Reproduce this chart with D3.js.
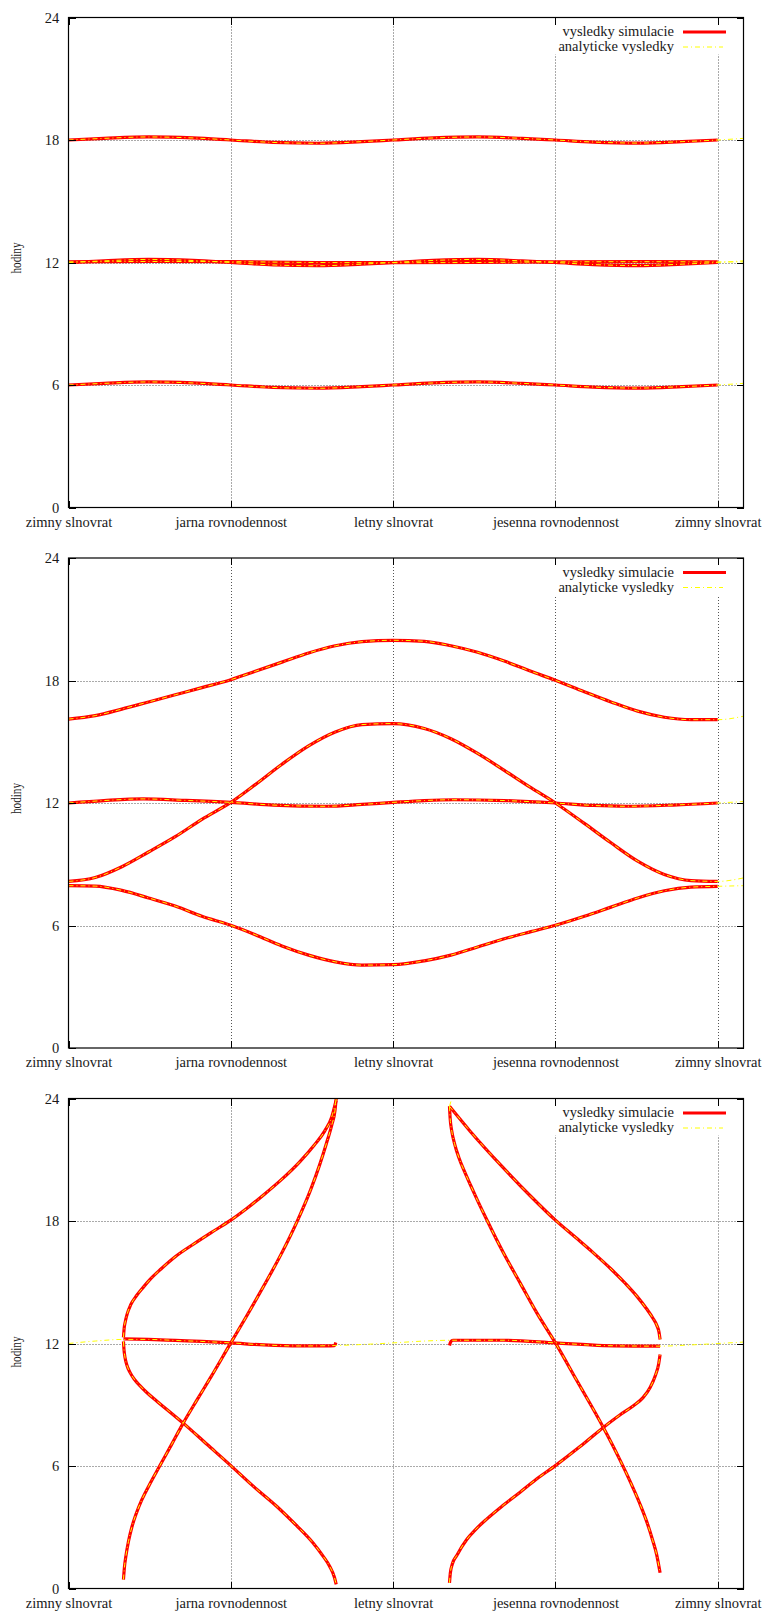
<!DOCTYPE html>
<html>
<head>
<meta charset="utf-8">
<script src="https://cdn.jsdelivr.net/npm/d3@7"></script>
<style>
  body { margin: 0; background: #fff; }
  svg text { font-family: "Liberation Serif", "Times New Roman", serif; }
</style>
</head>
<body>
<svg id="chart" width="766" height="1613"></svg>
<script>
// x axis: days from winter solstice
const xTickDays = [0, 91.25, 182.5, 273.75, 365];
const xTickLabels = ["zimny slnovrat", "jarna rovnodennost", "letny slnovrat", "jesenna rovnodennost", "zimny slnovrat"];
const yTicks = [0, 6, 12, 18, 24];
const legendLabels = ["vysledky simulacie", "analyticke vysledky"];
const yLabel = "hodiny";

// panel 1 - [day, hour]
const sunrise1 = [[0,6.0],[20,6.08],[45,6.15],[70,6.1],[91.25,6.0],[115,5.88],[140,5.84],[165,5.92],[182.5,6.0],[205,6.1],[230,6.15],[255,6.08],[273.75,6.0],[295,5.9],[320,5.85],[345,5.92],[365,6.0]];
const noon1 = [[0,12.0],[20,12.08],[45,12.15],[70,12.1],[91.25,12.0],[115,11.88],[140,11.84],[165,11.92],[182.5,12.0],[205,12.1],[230,12.15],[255,12.08],[273.75,12.0],[295,11.9],[320,11.85],[345,11.92],[365,12.0]];
const sunset1 = [[0,18.0],[20,18.08],[45,18.15],[70,18.1],[91.25,18.0],[115,17.88],[140,17.84],[165,17.92],[182.5,18.0],[205,18.1],[230,18.15],[255,18.08],[273.75,18.0],[295,17.9],[320,17.85],[345,17.92],[365,18.0]];
const dayLength1 = [[0,12.03],[45,12.05],[91.25,12.04],[140,12.0],[182.5,11.99],[230,12.0],[273.75,12.03],[320,12.04],[365,12.03]];
const tail1 = [[379.5,6.08],[379.5,12.08],[379.5,18.08],[379.5,12.03]];

// panel 2
const sunrise2 = [[0,7.95],[15,7.93],[30,7.72],[45,7.35],[60,6.95],[75,6.45],[91.25,6.01],[105,5.55],[120,5.0],[135,4.55],[150,4.22],[165,4.06],[182.5,4.08],[200,4.27],[215,4.55],[230,4.95],[245,5.35],[260,5.7],[273.75,6.01],[290,6.45],[305,6.9],[320,7.35],[335,7.7],[350,7.88],[365,7.92]];
const noon2 = [[0,12.0],[20,12.12],[42,12.2],[65,12.13],[91.25,12.03],[115,11.9],[145,11.84],[165,11.93],[182.5,12.03],[200,12.12],[216.4,12.16],[245,12.12],[273.75,12.0],[295,11.88],[313.8,11.84],[340,11.9],[365,12.0]];
const sunset2 = [[0,16.11],[15,16.28],[30,16.6],[45,16.95],[60,17.3],[75,17.65],[91.25,18.04],[105,18.45],[120,18.9],[135,19.35],[150,19.7],[165,19.9],[182.5,19.97],[200,19.92],[215,19.7],[230,19.38],[245,18.95],[260,18.45],[273.75,18.01],[290,17.45],[305,16.95],[320,16.5],[335,16.2],[350,16.08],[365,16.08]];
const dayLength2 = [[0,8.16],[15,8.35],[30,8.88],[45,9.6],[60,10.35],[75,11.2],[91.25,12.03],[105,12.9],[120,13.9],[135,14.8],[150,15.48],[165,15.84],[182.5,15.89],[200,15.65],[215,15.15],[230,14.43],[245,13.6],[260,12.75],[273.75,12.0],[290,11.0],[305,10.05],[320,9.15],[335,8.5],[350,8.2],[365,8.16]];
const tail2 = [[379.5,7.95],[379.5,12.07],[379.5,16.25],[379.5,8.33]];

// panel 3 (spring part, autumn part)
const dayLength3a = [[30.9,0.44],[31.4,1.0],[32.3,1.6],[33.7,2.3],[35.6,3.0],[38,3.65],[41,4.3],[45,5.0],[51.4,6.02],[58,7.06],[64.5,8.1],[72,9.2],[80,10.35],[91.25,12.03],[100,13.32],[110,14.85],[120,16.45],[129,18.07],[136,19.5],[141,20.7],[145,21.8],[148,22.7],[149.8,23.4],[150.5,24.0]];
const sunset3a = [[30.9,12.3],[31.3,12.75],[32,13.1],[33,13.45],[35,13.9],[38.3,14.35],[42,14.75],[46,15.15],[52,15.65],[60,16.25],[70,16.85],[80,17.42],[91.25,18.04],[100,18.6],[110,19.3],[120,20.05],[130,20.9],[138,21.7],[144,22.4],[148,23.1],[150.4,23.9]];
const sunrise3a = [[30.9,12.1],[31.2,11.7],[31.8,11.3],[32.8,10.95],[34.5,10.6],[37,10.25],[40,9.95],[44,9.6],[50,9.15],[57,8.65],[64.5,8.1],[78,7.05],[91.25,6.02],[104,5.0],[117,4.03],[128,3.1],[137.4,2.24],[143,1.6],[146.8,1.09],[149.5,0.55],[150.5,0.2]];
const noon3a = [[30.9,12.23],[45,12.2],[60,12.15],[75,12.1],[91.25,12.03],[110,11.93],[130,11.88],[145,11.88],[149.5,11.9],[150.3,12.05]];
const sunset3b = [[214.2,23.62],[225.8,22.4],[244.5,20.6],[260,19.2],[273.75,18.04],[285,17.2],[295.1,16.44],[305,15.65],[313,14.95],[319.5,14.32],[325,13.7],[328.5,13.25],[330.7,12.9],[332,12.55],[332.6,12.2]];
const sunrise3b = [[214.2,0.28],[214.7,0.77],[215.8,1.2],[218.3,1.62],[223.9,2.4],[229,2.9],[235.1,3.4],[244,4.05],[253.9,4.72],[263,5.35],[273.75,6.02],[287.6,6.95],[300.7,7.89],[310,8.5],[317.6,8.95],[323,9.35],[327,9.85],[330,10.45],[331.8,11.0],[332.6,11.46]];
const dayLength3b = [[214.2,23.62],[214.6,23.0],[215.5,22.4],[217,21.8],[219.5,21.1],[222.5,20.45],[225.8,19.8],[230,19.0],[235.1,18.07],[244.5,16.44],[253.9,14.97],[263.3,13.5],[273.75,12.03],[285.7,10.2],[300.7,7.89],[310.1,6.29],[316,5.2],[321,4.2],[325,3.3],[328.3,2.4],[330.7,1.65],[332.6,0.77]];
const noon3b = [[214.2,11.9],[215,12.1],[216.1,12.16],[244.5,12.16],[273.75,12.03],[300.7,11.9],[332.6,11.87]];
const analyticNoon3 = [[0,12.0],[15,12.12],[30.9,12.2],[45,12.2],[60,12.15],[75,12.1],[91.25,12.03],[110,11.93],[130,11.88],[150,11.9],[165,11.95],[182.5,12.03],[200,12.12],[216,12.16],[245,12.16],[273.75,12.03],[300,11.9],[332,11.87],[350,11.93],[365,12.0],[379.5,12.07]];
const analyticTop3 = [[214.2,23.62],[215.5,24.0]];

const left = 68.5, right = 743.5, panelHeight = 490;
const panelTops = [17.5, 558, 1098.5];
const yLabelShift = [0, 0, 13];

const panels = [
  { top: panelTops[0], labelShift: yLabelShift[0],
    sim: [sunrise1, noon1, sunset1, dayLength1],
    analytic: [sunrise1, noon1, sunset1, dayLength1].map((s, i) => s.concat([tail1[i]])) },
  { top: panelTops[1], labelShift: yLabelShift[1],
    sim: [sunrise2, noon2, sunset2, dayLength2],
    analytic: [sunrise2, noon2, sunset2, dayLength2].map((s, i) => s.concat([tail2[i]])) },
  { top: panelTops[2], labelShift: yLabelShift[2],
    sim: [dayLength3a, sunset3a, sunrise3a, noon3a, sunset3b, sunrise3b, dayLength3b, noon3b],
    analytic: [dayLength3a, sunset3a, sunrise3a, sunset3b, sunrise3b, dayLength3b, analyticNoon3, analyticTop3] }
];

const serif = '"Liberation Serif", "Times New Roman", serif';
const svg = d3.select("#chart");

const x = d3.scaleLinear()
  .domain([0, 379.5])
  .range([left, right]);

function styleAxis(g) {
  g.attr("font-family", serif).attr("font-size", 14.5);
  g.select(".domain").remove();
  g.selectAll(".tick line").attr("stroke", "#000").attr("shape-rendering", "crispEdges");
  g.selectAll("text")
    .attr("fill", "#1a1a1a")
    .style("font-family", serif)
    .style("font-size", "14.5px");
}

function drawPanel(p) {
  const y = d3.scaleLinear()
    .domain([0, 24])
    .range([p.top + panelHeight, p.top]);

  const g = svg.append("g");

  // grid
  g.selectAll("line.gridx")
    .data(xTickDays.slice(1))
    .enter()
    .append("line")
    .attr("class", "gridx")
    .attr("x1", d => Math.round(x(d)) + 0.5)
    .attr("x2", d => Math.round(x(d)) + 0.5)
    .attr("y1", y(0))
    .attr("y2", y(24))
    .attr("stroke", "#555")
    .attr("stroke-dasharray", "1,2");

  g.selectAll("line.gridy")
    .data(yTicks.slice(1, -1))
    .enter()
    .append("line")
    .attr("class", "gridy")
    .attr("x1", left)
    .attr("x2", right)
    .attr("y1", d => Math.round(y(d)) + 0.5)
    .attr("y2", d => Math.round(y(d)) + 0.5)
    .attr("stroke", "#555")
    .attr("stroke-dasharray", "1,2");

  // key background
  g.append("rect")
    .attr("x", 550)
    .attr("y", p.top + 1)
    .attr("width", 188)
    .attr("height", 36)
    .attr("fill", "#fff");

  const line = d3.line()
    .x(d => x(d[0]))
    .y(d => y(d[1]))
    .curve(d3.curveMonotoneX);

  p.sim.forEach(s => {
    g.append("path")
      .attr("d", line(s))
      .attr("fill", "none")
      .attr("stroke", "#ff0000")
      .attr("stroke-width", 3.2)
      .attr("stroke-linejoin", "round");
  });

  p.analytic.forEach(s => {
    g.append("path")
      .attr("d", line(s))
      .attr("fill", "none")
      .attr("stroke", "#ffff00")
      .attr("stroke-width", 1)
      .attr("stroke-dasharray", "5,3,1,3");
  });

  // axes, ticks inward (mirrored like gnuplot)
  g.append("g")
    .attr("transform", `translate(${left},0)`)
    .call(d3.axisLeft(y).tickValues(yTicks).tickSizeInner(-7).tickSizeOuter(0).tickPadding(9.2))
    .call(styleAxis);

  g.append("g")
    .attr("transform", `translate(${right},0)`)
    .call(d3.axisRight(y).tickValues(yTicks).tickSizeInner(-7).tickSizeOuter(0).tickFormat(""))
    .call(styleAxis);

  g.append("g")
    .attr("transform", `translate(0,${y(0)})`)
    .call(d3.axisBottom(x).tickValues(xTickDays).tickSizeInner(-7).tickSizeOuter(0).tickPadding(9.2)
      .tickFormat((d, i) => xTickLabels[i]))
    .call(styleAxis);

  g.append("g")
    .attr("transform", `translate(0,${y(24)})`)
    .call(d3.axisTop(x).tickValues(xTickDays).tickSizeInner(-7).tickSizeOuter(0).tickFormat(""))
    .call(styleAxis);

  // border
  g.append("rect")
    .attr("x", left)
    .attr("y", p.top)
    .attr("width", right - left)
    .attr("height", panelHeight)
    .attr("fill", "none")
    .attr("stroke", "#000")
    .attr("stroke-width", 1.2);

  // y label
  g.append("text")
    .attr("transform", `translate(20.5,${p.top + 240.5 + p.labelShift}) rotate(-90)`)
    .attr("text-anchor", "middle")
    .attr("textLength", 31)
    .attr("lengthAdjust", "spacingAndGlyphs")
    .style("font-size", "14.5px")
    .attr("fill", "#1a1a1a")
    .text(yLabel);

  // key
  const key = g.append("g");
  key.selectAll("text")
    .data(legendLabels)
    .enter()
    .append("text")
    .attr("x", 674)
    .attr("y", (d, i) => p.top + 18.8 + i * 14.7)
    .attr("text-anchor", "end")
    .style("font-size", "14.5px")
    .attr("fill", "#1a1a1a")
    .text(d => d);

  key.append("line")
    .attr("x1", 683).attr("x2", 726)
    .attr("y1", p.top + 14.5).attr("y2", p.top + 14.5)
    .attr("stroke", "#ff0000")
    .attr("stroke-width", 3.2);

  key.append("line")
    .attr("x1", 683).attr("x2", 723)
    .attr("y1", p.top + 29.5).attr("y2", p.top + 29.5)
    .attr("stroke", "#ffff00")
    .attr("stroke-width", 1)
    .attr("stroke-dasharray", "5,3,1,3");
}

panels.forEach(drawPanel);
</script>
</body>
</html>
